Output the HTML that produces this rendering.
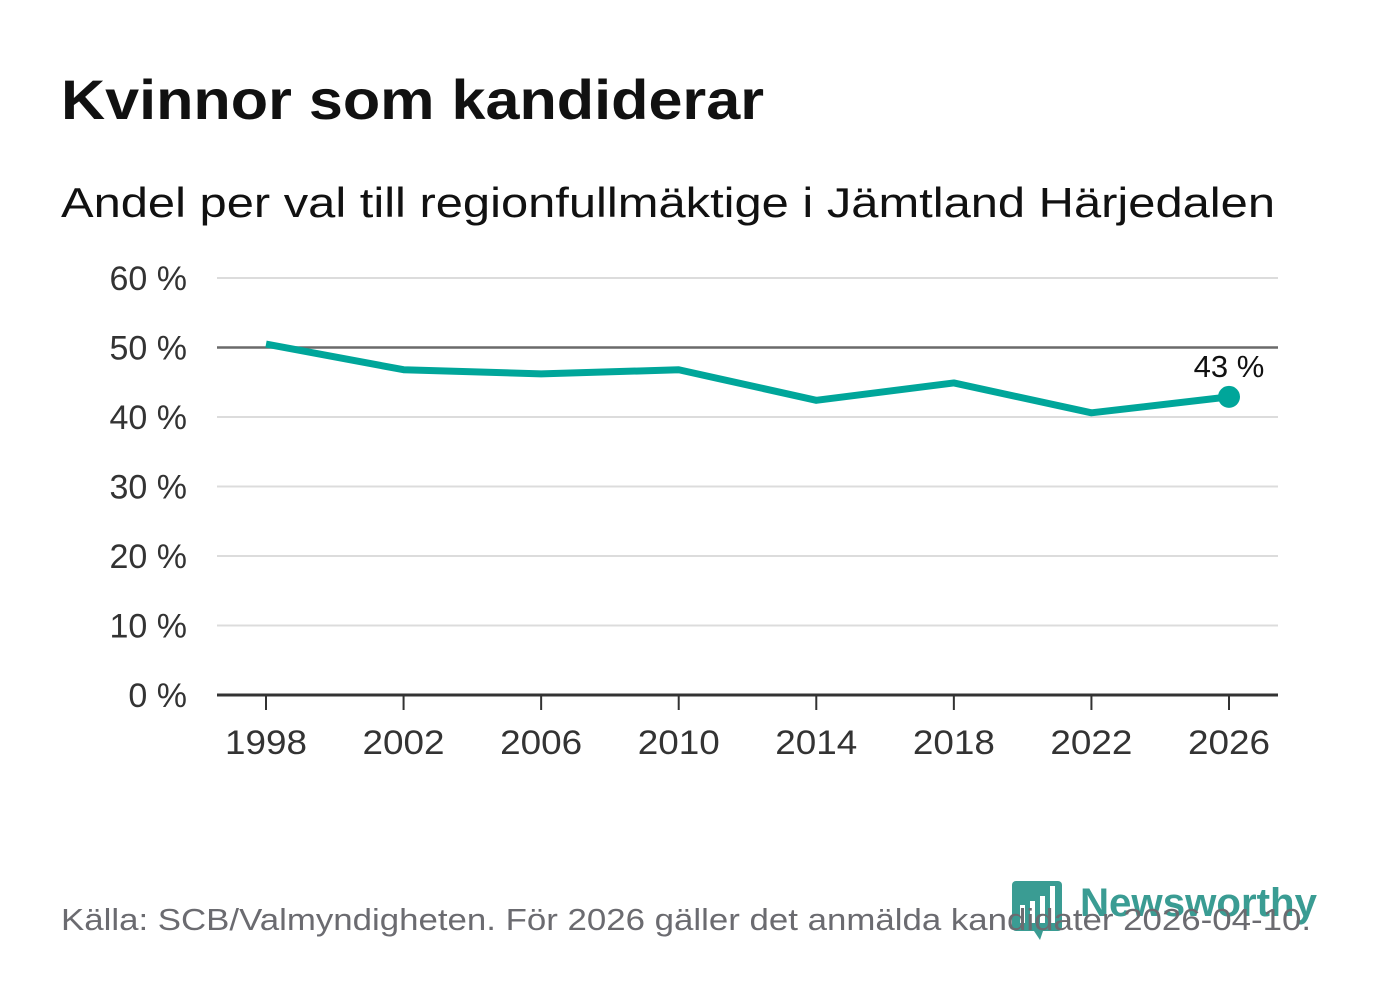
<!DOCTYPE html>
<html><head><meta charset="utf-8"><style>
body{margin:0;width:1382px;height:999px;background:#fff;font-family:"Liberation Sans",sans-serif;overflow:hidden}
</style></head><body>
<svg id="chart" width="1382" height="999" xmlns="http://www.w3.org/2000/svg">
<text x="61" y="119" font-size="56" font-weight="bold" fill="#111" textLength="703" lengthAdjust="spacingAndGlyphs">Kvinnor som kandiderar</text>
<text x="61" y="217" font-size="42" fill="#111" textLength="1214" lengthAdjust="spacingAndGlyphs">Andel per val till regionfullmäktige i Jämtland Härjedalen</text>
<g id="grid"></g><g id="xaxis"></g><g id="series"></g>
<g>
<rect x="1012" y="881" width="50" height="50" rx="4" fill="#3a9c93"/>
<path d="M1030 925 L1040 940 L1045 925Z" fill="#3a9c93"/>
<rect x="1020" y="905" width="5" height="18" fill="#fff"/><rect x="1030" y="901" width="5" height="22" fill="#fff"/><rect x="1040" y="896" width="5" height="27" fill="#fff"/><rect x="1050" y="886" width="5" height="37" fill="#fff"/>
<text x="1080" y="916" font-size="40" font-weight="bold" fill="#3a9c93" textLength="237" lengthAdjust="spacingAndGlyphs">Newsworthy</text>
</g>
<text x="61" y="930" font-size="31" fill="#6b6b70" textLength="1250" lengthAdjust="spacingAndGlyphs">Källa: SCB/Valmyndigheten. För 2026 gäller det anmälda kandidater 2026-04-10.</text>
</svg>
<script>
const years=[1998,2002,2006,2010,2014,2018,2022,2026];
const values=[50.5,46.8,46.2,46.8,42.4,44.9,40.6,42.9];
const yTicks=[0,10,20,30,40,50,60];
const yTickLabels=["0 %","10 %","20 %","30 %","40 %","50 %","60 %"];
const endLabel="43 %";
const NS="http://www.w3.org/2000/svg";
const x=v=>266+(v-1998)*(1229-266)/28;
const y=v=>695-v*(695-278)/60;
function mk(t,a,p){const e=document.createElementNS(NS,t);for(const k in a)e.setAttribute(k,a[k]);p.appendChild(e);return e;}
const grid=document.getElementById('grid'),xa=document.getElementById('xaxis'),se=document.getElementById('series');
yTicks.forEach((t,i)=>{
 const l=mk('line',{x1:217,x2:1278,y1:y(t),y2:y(t),stroke:t==50?'#6a6a6a':(t==0?'#333':'#dcdcdc'),'stroke-width':t==0?3:(t==50?2.5:2)},grid);
 
 
 const tx=mk('text',{x:187,y:y(t)+12,'text-anchor':'end','font-size':34,fill:'#333'},grid);tx.textContent=yTickLabels[i];
 
 
});
years.forEach(yr=>{
 const l=mk('line',{x1:x(yr),x2:x(yr),y1:695,y2:710,stroke:'#333','stroke-width':2},xa);
 
 
 const t=mk('text',{x:x(yr),y:754,'text-anchor':'middle','font-size':34,fill:'#333','textLength':82,'lengthAdjust':'spacingAndGlyphs'},xa);t.textContent=yr;
 
 
});
const p=mk('polyline',{points:years.map((yr,i)=>x(yr)+','+y(values[i])).join(' '),fill:'none',stroke:'#00a69a','stroke-width':7,'stroke-linejoin':'round'},se);


const n=years.length-1;
const c=mk('circle',{cx:x(years[n]),cy:y(values[n]),r:11,fill:'#00a69a'},se);


const lb=mk('text',{x:x(years[n]),y:y(values[n])-20,'text-anchor':'middle','font-size':31,fill:'#111',stroke:'#fff','stroke-width':6,'paint-order':'stroke'},se);lb.textContent=endLabel;


</script>
</body></html>
